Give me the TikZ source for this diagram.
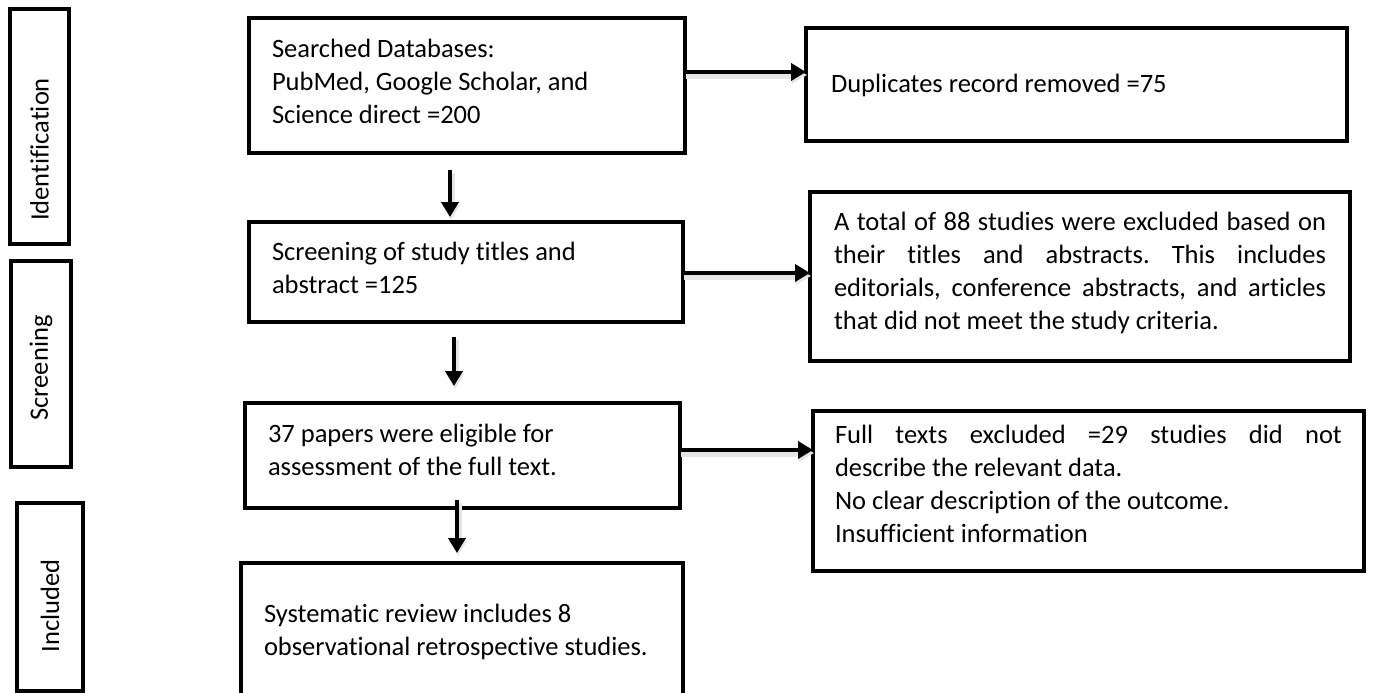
\documentclass[tikz,border=0pt]{standalone}
\usepackage{fontspec}
\setmainfont{Carlito}[Ligatures=NoCommon]
\usetikzlibrary{positioning,arrows.meta}
\tolerance=10000
\hbadness=10000
\hyphenpenalty=10000
\frenchspacing

\begin{document}
\begin{tikzpicture}[
    x=0.5pt, y=-0.5pt,
    font=\fontsize{13.25pt}{16.5pt}\selectfont,
    box/.style={
        draw,
        rectangle,
        line width=2.3pt,
        outer sep=0pt,
        inner xsep=0pt,
        inner ysep=0pt,
        align=flush left
    },
    stage/.style={
        draw,
        rectangle,
        line width=2.3pt,
        outer sep=0pt,
        rotate=90
    },
    arrow/.style={
        -{Triangle[length=7.5pt,width=8.5pt]},
        line width=2pt,
        preaction={draw=black!10, line width=3.5pt,
            transform canvas={shift={(0.5pt,-1.5pt)}}}
    }
]
\useasboundingbox (0,0) rectangle (1373,692);

% stages on the left
\node[stage, minimum width=117.5pt, minimum height=29.5pt] (ident) at (39.5,126.5)
    {Identification\hspace*{23pt}};
\node[stage, minimum width=103pt, minimum height=30pt] (screen) at (41,364)
    {Screening\hspace*{4pt}};
\node[stage, minimum width=94pt, minimum height=33pt] (incl) at (50,597)
    {Included\hspace*{9pt}};

% main column
\node[box, minimum width=218pt, text width=195pt,
      text height=19.5pt, text depth=48pt] (search) at (467,85.5) {
Searched Databases:\\
PubMed, Google Scholar, and\\
Science direct =200
};

\node[box, below=34.5pt of search, xshift=-0.5pt,
      minimum width=217pt, text width=194pt,
      text height=19pt, text depth=31pt] (titles) {
Screening of study titles and\\
abstract =125
};

\node[box, below=40.5pt of titles, xshift=-1.75pt,
      minimum width=217.5pt, text width=194.5pt,
      text height=19.5pt, text depth=33pt] (fulltext) {
37 papers were eligible for\\
assessment of the full text.
};

\node[box, below=27.5pt of fulltext, xshift=-0.25pt,
      minimum width=221pt, text width=198pt,
      text height=29.5pt, text depth=38.5pt] (review) {
Systematic review includes 8\\
observational retrospective studies.
};

% exclusions on the right
\node[box, right=60.5pt of search, yshift=0.5pt,
      minimum width=270.5pt, text width=245.5pt,
      text height=32pt, text depth=24.5pt] (dup) {
Duplicates record removed =75
};

\node[box, right=63.5pt of titles, yshift=-2.25pt, align=justify,
      minimum width=270pt, text width=246pt,
      text height=19pt, text depth=65.5pt] (excl1) {
A total of 88 studies were excluded based on\linebreak
their titles and abstracts. This includes\linebreak
editorials, conference abstracts, and articles\linebreak
that did not meet the study criteria.
};

\node[box, right=66.5pt of fulltext, yshift=-17.75pt, align=justify,
      minimum width=275.5pt, text width=253.5pt,
      text height=16pt, text depth=64pt] (excl2) {
Full texts excluded =29 studies did not\linebreak
describe the relevant data.\newline
No clear description of the outcome.\newline
Insufficient information
};

% connectors
\coordinate (a1) at ([yshift=6.75pt]search.east);
\coordinate (a2) at ([yshift=-0.5pt]titles.east);
\coordinate (a3) at ([yshift=2.75pt]fulltext.east);
\coordinate (d1) at ([xshift=-8.5pt,yshift=-8.5pt]search.south);
\coordinate (d2) at ([xshift=-6pt,yshift=-7.5pt]titles.south);
\coordinate (d3) at ([xshift=-2.75pt,yshift=4pt]fulltext.south);

\draw[arrow] (a1) -- (a1 -| dup.west);
\draw[arrow] (a2) -- (a2 -| excl1.west);
\draw[arrow] (a3) -- (a3 -| excl2.west);
\draw[arrow, shorten >=2.5pt] (d1) -- (d1 |- titles.north);
\draw[arrow, shorten >=8.5pt] (d2) -- (d2 |- fulltext.north);
\draw[arrow, shorten >=5pt] (d3) -- (d3 |- review.north);

\end{tikzpicture}
\end{document}
